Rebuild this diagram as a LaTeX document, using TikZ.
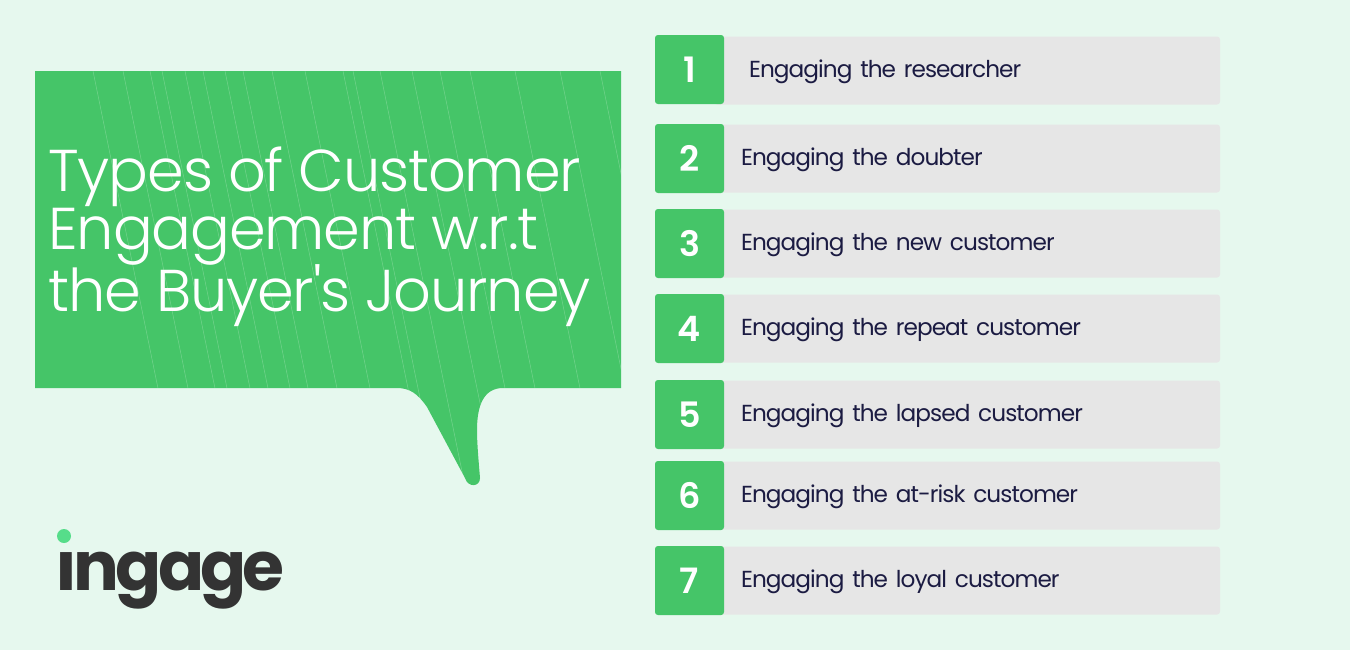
\documentclass[tikz,border=0pt]{standalone}
\usepackage{fontspec}
\setmainfont{Poppins}
\newfontfamily\titlefont[LetterSpace=-2]{Poppins Light}
\newfontfamily\rowfont[LetterSpace=-4]{Poppins}
\newfontfamily\numfont{Poppins SemiBold}
\newfontfamily\logofont[LetterSpace=-5.5]{Poppins}
\usepackage{tikz}
\usetikzlibrary{positioning}
\definecolor{Mint}{HTML}{E6F8EE}
\definecolor{Leaf}{HTML}{45C568}
\definecolor{Dot}{HTML}{56DD8A}
\definecolor{Row}{HTML}{E6E6E6}
\definecolor{Ink}{HTML}{1B1B42}
\definecolor{Coal}{HTML}{333333}
\newcommand{\bubblepath}{(35,71) -- (621,71) -- (621,388) -- (503,388)
  .. controls (484,388) and (477,405) .. (477,430)
  .. controls (477,445) and (479,465) .. (480,478)
  .. controls (480,487) and (468,488) .. (465,478)
  -- (427,407)
  .. controls (418,394) and (410,388) .. (397,388)
  -- (35,388) -- cycle}
\newcommand{\rowlabel}[1]{\rule{0pt}{10pt}#1}
\tikzset{%
  number_block/.style={%
    rectangle,%
    rounded corners=0.02in,%
    fill=Leaf,%
    text=white,%
    outer sep=0pt,%
    minimum width=34.5pt,%
    minimum height=34.5pt,%
    inner sep=0pt,%
    font={\numfont\fontsize{17.5}{17.5}\selectfont},%
  },
  row_block/.style={%
    rectangle,%
    rounded corners=0.02in,%
    fill=Row,%
    text=Ink,%
    outer sep=0pt,%
    minimum width=253pt,%
    minimum height=34pt,%
    inner sep=0pt,%
    text width=226pt,%
    align=left,%
    font={\rowfont\fontsize{11.6}{14}\selectfont},%
  },
  hairline/.style={%
    draw=white,%
    opacity=0.25,%
    line width=0.25pt,%
  },
}
\begin{document}
\begin{tikzpicture}[x=0.5pt, y=-0.5pt]
    \useasboundingbox[fill=Mint] (0,0) rectangle (1350,650);

    \fill[Leaf] \bubblepath;
    \begin{scope}
      \clip \bubblepath;
      \foreach \topx in {93,123,150,162,185,203,225,243,272,305,343,353,380,412,440,470,515,560,600}
        \draw[hairline] (\topx,71) -- +(85,415);
    \end{scope}

    \node[anchor=base west, inner sep=0pt, text=white, align=left,
      font={\titlefont\fontsize{29.5}{30.25}\selectfont}] (Title) at (48,311)
      {Types of Customer\\[-1.5pt]Engagement w.r.t\\[-1.5pt]the Buyer's Journey};

    \node[anchor=base west, inner sep=0pt, text=Coal,
      font={\logofont\bfseries\fontsize{34}{34}\selectfont}] (Logo) at (55,590) {ıngage};
    \node[circle, fill=Dot, minimum size=7pt, inner sep=0pt] (LogoDot) at (64,536) {};

    % rows go first, the number squares overlap them
    \coordinate (Start) at (655,35);
    \coordinate (Row1Pos) at (714,70.5);
    \node[row_block, anchor=west] (Row1) at (Row1Pos) {\hspace{4pt}\rowlabel{Engaging the researcher}};
    \node[row_block, below = 10pt of Row1] (Row2) {\rowlabel{Engaging the doubter}};
    \node[row_block, below = 8.5pt of Row2] (Row3) {\rowlabel{Engaging the new customer}};
    \node[row_block, below = 8.5pt of Row3] (Row4) {\rowlabel{Engaging the repeat customer}};
    \node[row_block, below = 9pt of Row4] (Row5) {\rowlabel{Engaging the lapsed customer}};
    \node[row_block, below = 6.5pt of Row5] (Row6) {\rowlabel{Engaging the at-risk customer}};
    \node[row_block, below = 8.5pt of Row6] (Row7) {\rowlabel{Engaging the loyal customer}};

    \node[number_block, anchor=north west] (Num1) at (Start) {1};
    \node[number_block, below = 10pt of Num1] (Num2) {2};
    \node[number_block, below = 8pt of Num2] (Num3) {3};
    \node[number_block, below = 8pt of Num3] (Num4) {4};
    \node[number_block, below = 8.5pt of Num4] (Num5) {5};
    \node[number_block, below = 6pt of Num5] (Num6) {6};
    \node[number_block, below = 8pt of Num6] (Num7) {7};
  \end{tikzpicture}
\end{document}
